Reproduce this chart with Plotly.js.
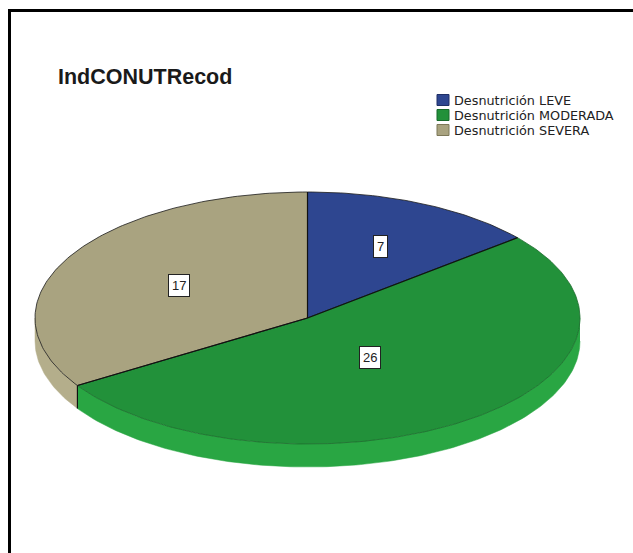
<!DOCTYPE html>
<html>
<head>
<meta charset="utf-8">
<script src="https://cdn.plot.ly/plotly-3.0.1.min.js"></script>
<style>
  html, body { margin: 0; padding: 0; background: #ffffff; overflow: hidden; }
  #chart { width: 633px; height: 553px; }
</style>
</head>
<body>
<div id="chart"></div>
<script>
// ---- data ----
const chartTitle = 'IndCONUTRecod';
const categories = ['Desnutrición LEVE', 'Desnutrición MODERADA', 'Desnutrición SEVERA'];
const counts = [7, 26, 17];

// ---- styles ----
const topColors = ['#2e4690', '#22913a', '#a9a380'];
const sideColors = ['#2a4185', '#29a643', '#b4ae8b'];
const swatchBorders = ['#1f2f66', '#17682a', '#7d7858'];
const outlineColors = ['#1a1a1a', '#1c6b2c', '#1a1a1a'];
const labelRadius = [0.63, 0.39, 0.54];

// ---- geometry (pixel space of the page) ----
const W = 633, H = 553;
const cx = 307.5, cy = 318, ra = 272.5, rb = 126, depth = 23;

function pt(deg, r, dy) {
  const t = deg * Math.PI / 180;
  return [cx + ra * r * Math.sin(t), cy - rb * r * Math.cos(t) + (dy || 0)];
}

const total = counts.reduce((s, v) => s + v, 0);
const starts = [], ends = [];
let acc = 0;
counts.forEach(v => { starts.push(acc / total * 360); acc += v; ends.push(acc / total * 360); });

const traces = [];

// side walls (visible between 90° and 270°, clockwise from 12 o'clock)
counts.forEach((v, i) => {
  const s = Math.max(starts[i], 90), e = Math.min(ends[i], 270);
  if (e <= s) return;
  const xs = [], ys = [];
  const n = Math.max(2, Math.ceil(e - s));
  for (let k = 0; k <= n; k++) { const p = pt(s + (e - s) * k / n, 1, 0); xs.push(p[0]); ys.push(p[1]); }
  for (let k = n; k >= 0; k--) { const p = pt(s + (e - s) * k / n, 1, depth); xs.push(p[0]); ys.push(p[1]); }
  traces.push({
    type: 'scatter', mode: 'lines', x: xs, y: ys, fill: 'toself',
    fillcolor: sideColors[i], line: { color: sideColors[i], width: 0.5 },
    hoverinfo: 'skip', showlegend: false
  });
});

// vertical edges of the wall at slice boundaries inside the visible range
counts.forEach((v, i) => {
  const b = ends[i];
  if (b > 90 && b < 270) {
    const p0 = pt(b, 1, 0), p1 = pt(b, 1, depth);
    traces.push({
      type: 'scatter', mode: 'lines', x: [p0[0], p1[0]], y: [p0[1], p1[1]],
      line: { color: '#111', width: 1.2 }, hoverinfo: 'skip', showlegend: false
    });
  }
});

// top surfaces
counts.forEach((v, i) => {
  const s = starts[i], e = ends[i];
  const xs = [cx], ys = [cy];
  const n = Math.max(2, Math.ceil(e - s));
  for (let k = 0; k <= n; k++) { const p = pt(s + (e - s) * k / n, 1, 0); xs.push(p[0]); ys.push(p[1]); }
  xs.push(cx); ys.push(cy);
  traces.push({
    type: 'scatter', mode: 'lines', x: xs, y: ys, fill: 'toself',
    fillcolor: topColors[i], line: { color: outlineColors[i], width: 0.8 },
    name: categories[i], hoverinfo: 'skip', showlegend: false
  });
});

// radial boundary lines (black)
counts.forEach((v, i) => {
  const p = pt(starts[i], 1, 0);
  traces.push({
    type: 'scatter', mode: 'lines', x: [cx, p[0]], y: [cy, p[1]],
    line: { color: '#111', width: 1.2 }, hoverinfo: 'skip', showlegend: false
  });
});

const annotations = [];
// value labels
counts.forEach((v, i) => {
  const mid = (starts[i] + ends[i]) / 2;
  const p = pt(mid, labelRadius[i], 0);
  annotations.push({
    x: p[0], y: p[1], xref: 'x', yref: 'y', showarrow: false,
    text: String(v), bgcolor: '#ffffff', bordercolor: '#222', borderwidth: 1, borderpad: 3,
    font: { family: 'Liberation Sans, Arial, sans-serif', size: 13, color: '#222' }
  });
});

// title
annotations.push({
  x: 56, y: 77, xref: 'x', yref: 'y', xanchor: 'left', yanchor: 'middle', showarrow: false,
  text: '<b>' + chartTitle + '</b>',
  font: { family: 'Liberation Sans, Arial, sans-serif', size: 21.5, color: '#1a1a1a' }
});

// legend (manual, compact like the original)
const shapes = [];
const legX = 437, legY0 = 100, legStep = 15;
categories.forEach((c, i) => {
  const yc = legY0 + i * legStep;
  shapes.push({
    type: 'rect', xref: 'x', yref: 'y', x0: legX, x1: legX + 12, y0: yc - 5.5, y1: yc + 5.5,
    fillcolor: topColors[i], line: { color: swatchBorders[i], width: 1 }
  });
  annotations.push({
    x: legX + 15, y: yc, xref: 'x', yref: 'y', xanchor: 'left', yanchor: 'middle', showarrow: false,
    text: c, font: { family: 'DejaVu Sans, sans-serif', size: 12.8, color: '#222' }
  });
});

// outer frame (only left and top edges are inside the picture)
shapes.push({ type: 'line', xref: 'x', yref: 'y', x0: 9.5, y0: 10.5, x1: 9.5, y1: H + 5, line: { color: '#000', width: 3 } });
shapes.push({ type: 'line', xref: 'x', yref: 'y', x0: 8, y0: 10.5, x1: W + 5, y1: 10.5, line: { color: '#000', width: 3 } });

const layout = {
  width: W, height: H,
  margin: { l: 0, r: 0, t: 0, b: 0 },
  paper_bgcolor: '#ffffff', plot_bgcolor: '#ffffff',
  xaxis: { range: [0, W], visible: false, fixedrange: true },
  yaxis: { range: [H, 0], visible: false, fixedrange: true },
  showlegend: false,
  annotations: annotations,
  shapes: shapes
};

Plotly.newPlot('chart', traces, layout, { staticPlot: true, displayModeBar: false });
</script>
</body>
</html>
